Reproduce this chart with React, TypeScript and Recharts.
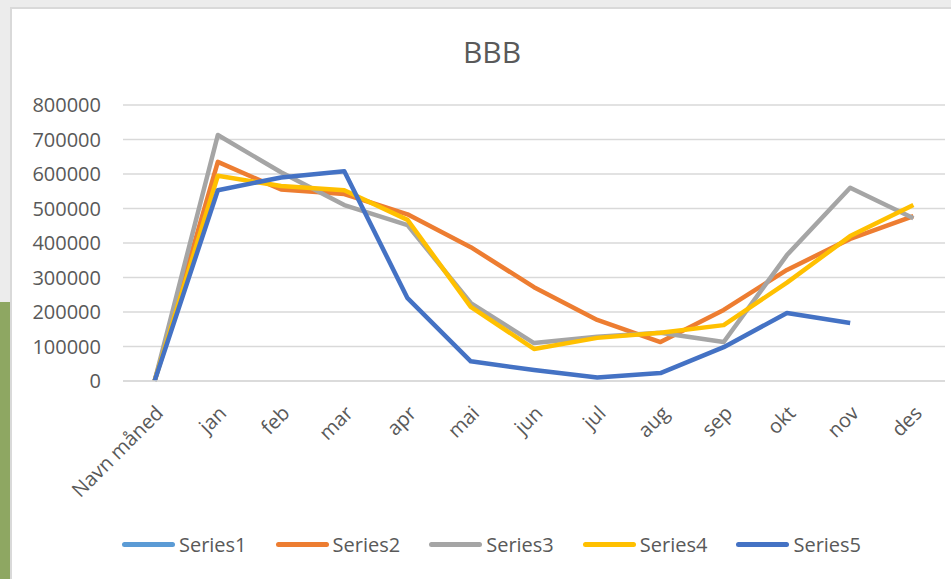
import { CartesianGrid, Legend, Line, LineChart, XAxis, YAxis } from "recharts";

const months = ["Navn måned", "jan", "feb", "mar", "apr", "mai", "jun", "jul", "aug", "sep", "okt", "nov", "des"];

const series1: (number | null)[] = [null, null, null, null, null, null, null, null, null, null, null, null, null];
const series2 = [0, 635000, 555000, 542000, 483000, 388000, 272000, 177000, 113000, 206000, 322000, 412000, 478000];
const series3 = [0, 713000, 605000, 510000, 452000, 226000, 110000, 128000, 140000, 113000, 365000, 560000, 472000];
const series4 = [0, 595000, 565000, 553000, 467000, 215000, 93000, 125000, 140000, 162000, 285000, 420000, 510000];
const series5: (number | null)[] = [0, 553000, 590000, 608000, 240000, 57000, 32000, 10000, 23000, 98000, 197000, 168000, null];

const yTicks = [0, 100000, 200000, 300000, 400000, 500000, 600000, 700000, 800000];

const seriesInfo = [
	{ key: "Series1", color: "#5B9BD5", values: series1 },
	{ key: "Series2", color: "#ED7D31", values: series2 },
	{ key: "Series3", color: "#A5A5A5", values: series3 },
	{ key: "Series4", color: "#FFC000", values: series4 },
	{ key: "Series5", color: "#4472C4", values: series5 },
];

const data = months.map((m, i) => {
	const row: Record<string, string | number | null> = { month: m };
	seriesInfo.forEach((s) => {
		row[s.key] = s.values[i];
	});
	return row;
});

const FONT = "'Open Sans', sans-serif";
const TEXT = "#595959";

const MonthTick = ({ x, y, payload }: any) => (
	<text
		x={x}
		y={y}
		dx={-11}
		dy={25}
		transform={`rotate(-45, ${x}, ${y})`}
		textAnchor="end"
		fill={TEXT}
		fontSize={20}
		fontFamily={FONT}
	>
		{payload.value}
	</text>
);

const LegendBox = () => (
	<div
		style={{
			display: "flex",
			justifyContent: "center",
			alignItems: "center",
			height: "100%",
			paddingLeft: 20,
			gap: 29,
			fontFamily: FONT,
			fontSize: 20,
			color: TEXT,
		}}
	>
		{seriesInfo.map((s) => (
			<div key={s.key} style={{ display: "flex", alignItems: "center", gap: 4 }}>
				<span style={{ display: "inline-block", width: 53, height: 5, borderRadius: 3, background: s.color }} />
				<span>{s.key}</span>
			</div>
		))}
	</div>
);

export default function App() {
	return (
		<div style={{ position: "fixed", left: 0, top: 0, width: 951, height: 579, background: "#ececec", overflow: "hidden" }}>
			<div style={{ position: "absolute", left: 0, top: 302, width: 10, height: 277, background: "#8ea762" }} />
			<div
				style={{
					position: "absolute",
					left: 10,
					top: 7,
					width: 945,
					height: 580,
					background: "#fff",
					borderLeft: "2px solid #d9d9d9",
					borderTop: "2px solid #d9d9d9",
				}}
			>
				<div
					style={{
						position: "absolute",
						left: 480,
						top: 22,
						transform: "translateX(-50%)",
						fontFamily: FONT,
						fontSize: 30,
						color: TEXT,
						whiteSpace: "nowrap",
					}}
				>
					BBB
				</div>
				<LineChart width={939} height={570} data={data} margin={{ top: 96, right: 6, bottom: 8, left: 0 }}>
					<CartesianGrid vertical={false} stroke="#d9d9d9" strokeWidth={1.5} />
					<XAxis
						dataKey="month"
						padding={{ left: 31.6, right: 31.6 }}
						axisLine={{ stroke: "#d9d9d9", strokeWidth: 1.5 }}
						tickLine={false}
						tick={<MonthTick />}
						interval={0}
						height={136}
					/>
					<YAxis
						domain={[0, 800000]}
						ticks={yTicks}
						width={111}
						axisLine={false}
						tickLine={false}
						tickSize={0}
						tickMargin={22}
						tick={{ fill: TEXT, fontSize: 20, fontFamily: FONT }}
					/>
					<Legend verticalAlign="bottom" content={<LegendBox />} wrapperStyle={{ left: 0, width: 939, height: 54 }} />
					{seriesInfo.map((s) => (
						<Line
							key={s.key}
							dataKey={s.key}
							stroke={s.color}
							strokeWidth={4.5}
							strokeLinejoin="round"
							dot={false}
							activeDot={false}
							isAnimationActive={false}
						/>
					))}
				</LineChart>
			</div>
		</div>
	);
}
